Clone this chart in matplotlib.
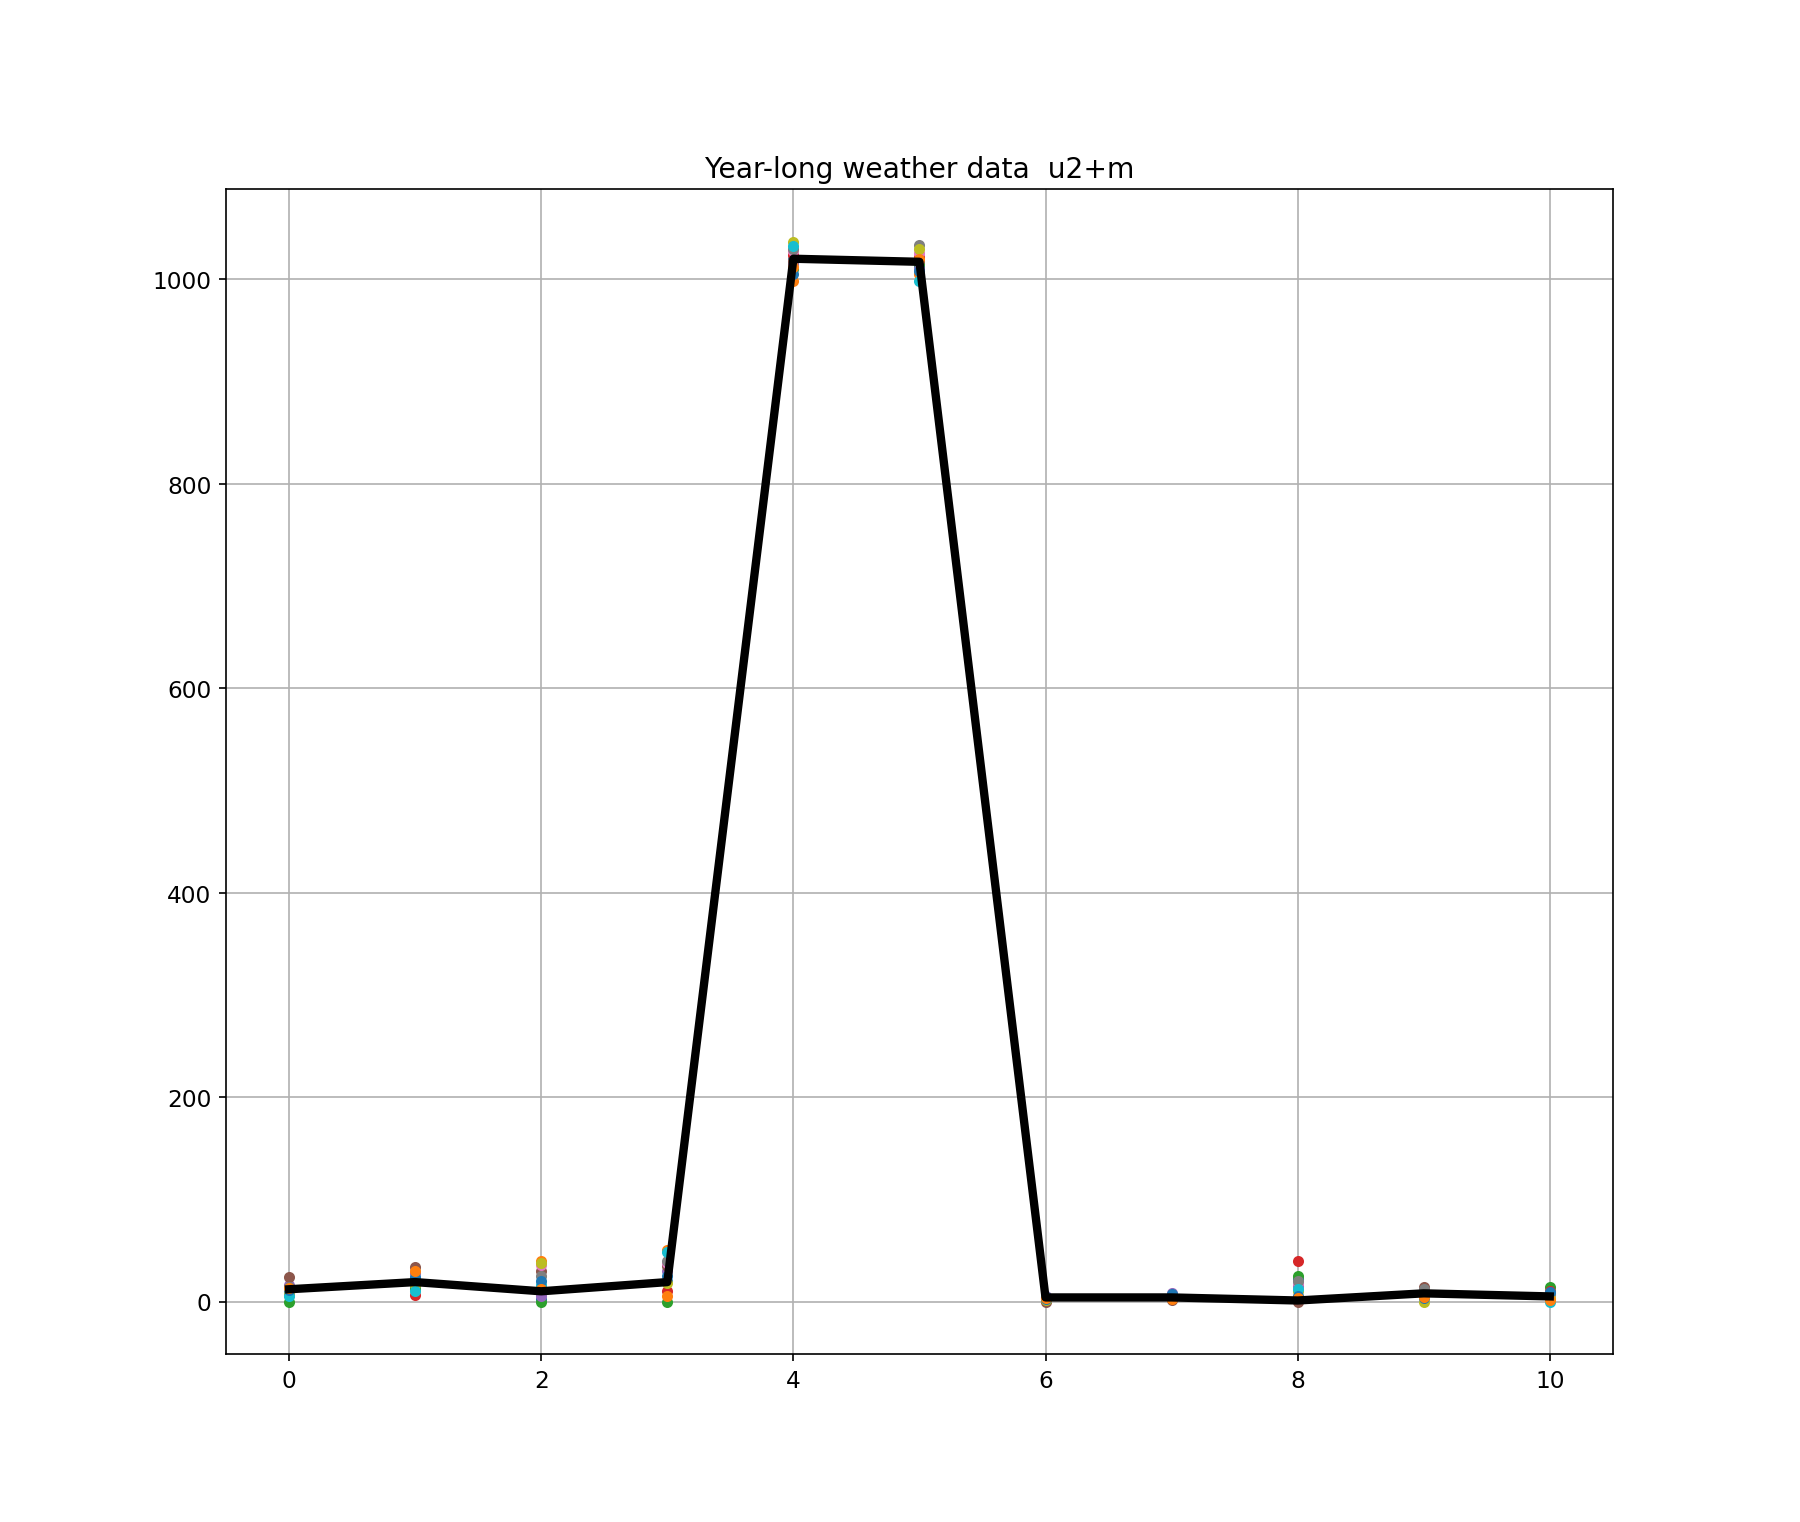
import numpy as np
import matplotlib.pyplot as plt

# one list per variable, twelve readings each (one per month)
var0 = [10, 8, 0, 6, 16, 24, 12, 14, 9, 5, 11, 13]
var1 = [14, 22, 12, 6, 28, 34, 18, 20, 16, 10, 24, 30]
var2 = [2, 40, 0, 8, 5, 30, 36, 25, 38, 16, 20, 12]
var3 = [20, 50, 0, 10, 30, 35, 38, 40, 18, 48, 25, 5]
var4 = [1020, 998, 1010, 1024, 1015, 1018, 1028, 1030, 1036, 1032, 1005, 1012]
var5 = [1012, 1005, 1015, 1022, 1010, 1018, 1026, 1033, 1030, 998, 1008, 1020]
var6 = [2, 3, 1, 4, 5, 0, 2, 3, 1, 4, 2, 3]
var7 = [5, 4, 6, 3, 8, 1, 4, 5, 3, 6, 7, 2]
var8 = [22, 2, 25, 40, 15, 0, 18, 20, 10, 12, 5, 3]
var9 = [8, 6, 10, 9, 7, 14, 11, 12, 0, 5, 3, 4]
var10 = [6, 4, 14, 10, 8, 2, 5, 7, 3, 0, 9, 1]

# overall line drawn on top
avg = [12, 19, 10, 19, 1020, 1017, 4, 4, 1, 8, 5]

columns = [var0, var1, var2, var3, var4, var5, var6, var7, var8, var9, var10]
data = np.array(columns).T
x = np.arange(len(columns))

plt.figure(figsize=(12, 10.153), dpi=150)
plt.subplots_adjust(left=0.1256, right=0.896, top=0.875, bottom=0.11)
for row in data:
    plt.plot(x, row, 'o', markersize=4.3)
plt.plot(x, avg, color='k', linewidth=4)
plt.title('Year-long weather data  u2+m', fontsize=13.5)
plt.tick_params(labelsize=11.2)
plt.grid(True)
plt.savefig('out.png', dpi=150)
